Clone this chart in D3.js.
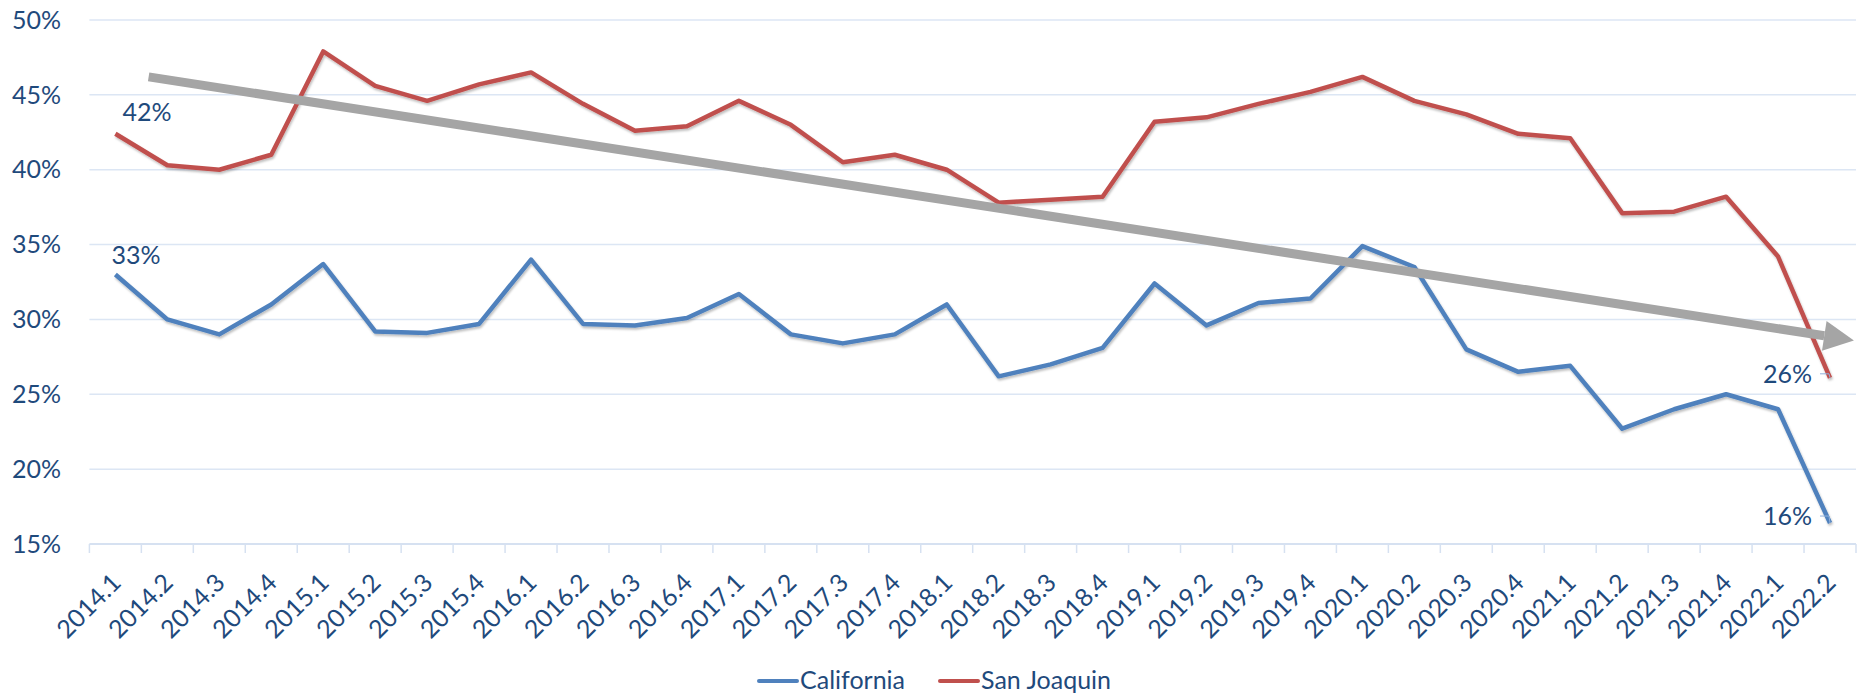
<!DOCTYPE html>
<html>
<head>
<meta charset="utf-8">
<script src="https://cdn.jsdelivr.net/npm/d3@7"></script>
<style>
  body { margin: 0; background: #fff; }
  text { font-family: Lato, "Open Sans", sans-serif; fill: #1f4a7c; }
</style>
</head>
<body>
<svg id="chart" width="1864" height="696"></svg>
<script>
// quarters on the x axis
const quarters = [
  '2014.1','2014.2','2014.3','2014.4','2015.1','2015.2','2015.3','2015.4',
  '2016.1','2016.2','2016.3','2016.4','2017.1','2017.2','2017.3','2017.4',
  '2018.1','2018.2','2018.3','2018.4','2019.1','2019.2','2019.3','2019.4',
  '2020.1','2020.2','2020.3','2020.4','2021.1','2021.2','2021.3','2021.4',
  '2022.1','2022.2'
];

// percent values
const california = [
  33.0, 30.0, 29.0, 31.0, 33.7, 29.2, 29.1, 29.7,
  34.0, 29.7, 29.6, 30.1, 31.7, 29.0, 28.4, 29.0,
  31.0, 26.2, 27.0, 28.1, 32.4, 29.6, 31.1, 31.4,
  34.9, 33.5, 28.0, 26.5, 26.9, 22.7, 24.0, 25.0,
  24.0, 16.4
];
const sanJoaquin = [
  42.4, 40.3, 40.0, 41.0, 47.9, 45.6, 44.6, 45.7,
  46.5, 44.4, 42.6, 42.9, 44.6, 43.0, 40.5, 41.0,
  40.0, 37.8, 38.0, 38.2, 43.2, 43.5, 44.4, 45.2,
  46.2, 44.6, 43.7, 42.4, 42.1, 37.1, 37.2, 38.2,
  34.2, 26.1
];

const yTicks = [15, 20, 25, 30, 35, 40, 45, 50];

// trend arrow: [category index, percent] at start and tip
const trendStart = [0.64, 46.2];
const trendEnd = [33.46, 28.6];

const series = [
  { name: 'California', values: california, color: '#4f81bd' },
  { name: 'San Joaquin', values: sanJoaquin, color: '#c0504d' }
];

const svg = d3.select('#chart');
const plotLeft = 89.4, plotRight = 1856, plotTop = 20, plotBottom = 544;
const fontSize = '25px';

const x = d3.scaleBand().domain(quarters).range([plotLeft, plotRight]).padding(0);
const y = d3.scaleLinear().domain([15, 50]).range([plotBottom, plotTop]);
const cx = i => x(quarters[0]) + x.step() * (i + 0.5);

const defs = svg.append('defs');
defs.append('filter').attr('id', 'shadow')
  .attr('x', '-5%').attr('y', '-5%').attr('width', '110%').attr('height', '120%')
  .append('feDropShadow')
  .attr('dx', 1).attr('dy', 2).attr('stdDeviation', 1.2)
  .attr('flood-color', '#000').attr('flood-opacity', 0.25);

// grid lines
svg.append('g')
  .selectAll('line')
  .data(yTicks.slice(1))
  .enter()
  .append('line')
  .attr('x1', plotLeft).attr('x2', plotRight)
  .attr('y1', d => y(d)).attr('y2', d => y(d))
  .attr('stroke', '#dce6f4').attr('stroke-width', 1.5);

// y labels
svg.append('g')
  .selectAll('text')
  .data(yTicks)
  .enter()
  .append('text')
  .attr('x', 61)
  .attr('y', d => y(d))
  .attr('dy', '0.35em')
  .attr('text-anchor', 'end')
  .style('font-size', fontSize)
  .text(d => d + '%');

// x axis line + tick marks at band edges
const xAxis = svg.append('g');
xAxis.append('line')
  .attr('x1', plotLeft).attr('x2', plotRight)
  .attr('y1', plotBottom).attr('y2', plotBottom)
  .attr('stroke', '#d6e1f1').attr('stroke-width', 2);
xAxis.selectAll('.tick')
  .data(d3.range(quarters.length + 1))
  .enter()
  .append('line')
  .attr('x1', i => plotLeft + i * x.step())
  .attr('x2', i => plotLeft + i * x.step())
  .attr('y1', plotBottom).attr('y2', plotBottom + 9)
  .attr('stroke', '#d6e1f1').attr('stroke-width', 1.5);

xAxis.selectAll('text')
  .data(quarters)
  .enter()
  .append('text')
  .attr('transform', (d, i) => `translate(${cx(i) + 1},${plotBottom + 34}) rotate(-45)`)
  .attr('text-anchor', 'end')
  .attr('dy', '0.35em')
  .style('font-size', fontSize)
  .text(d => d);

// series lines
const line = d3.line()
  .x((d, i) => cx(i))
  .y(d => y(d));

svg.append('g')
  .selectAll('path')
  .data(series)
  .enter()
  .append('path')
  .attr('d', d => line(d.values))
  .attr('fill', 'none')
  .attr('stroke', d => d.color)
  .attr('stroke-width', 4.5)
  .attr('stroke-linejoin', 'round')
  .attr('filter', 'url(#shadow)');

// trend arrow
const ax1 = cx(trendStart[0]), ay1 = y(trendStart[1]);
const ax2 = cx(trendEnd[0]), ay2 = y(trendEnd[1]);
const ang = Math.atan2(ay2 - ay1, ax2 - ax1);
const headLen = 30, headHalf = 15;
const bx = ax2 - headLen * Math.cos(ang), by = ay2 - headLen * Math.sin(ang);
const nx = -Math.sin(ang), ny = Math.cos(ang);
svg.append('line')
  .attr('x1', ax1).attr('y1', ay1)
  .attr('x2', bx).attr('y2', by)
  .attr('stroke', '#a5a5a5').attr('stroke-width', 9);
svg.append('path')
  .attr('d', `M${ax2},${ay2} L${bx + nx * headHalf},${by + ny * headHalf} L${bx - nx * headHalf},${by - ny * headHalf} Z`)
  .attr('fill', '#a5a5a5');

// data labels at first and last points
const fmt = v => Math.round(v) + '%';
const labels = [
  { v: sanJoaquin[0], i: 0, dx: 7, dy: -22, anchor: 'start' },
  { v: california[0], i: 0, dx: -4, dy: -19, anchor: 'start' },
  { v: sanJoaquin[quarters.length - 1], i: quarters.length - 1, dx: -18, dy: -4, anchor: 'end', leader: true },
  { v: california[quarters.length - 1], i: quarters.length - 1, dx: -18, dy: -7, anchor: 'end', leader: true }
];
const lg = svg.append('g');
labels.forEach(l => {
  const px = cx(l.i), py = y(l.v);
  lg.append('text')
    .attr('x', px + l.dx)
    .attr('y', py + l.dy)
    .attr('dy', '0.35em')
    .attr('text-anchor', l.anchor)
    .style('font-size', fontSize)
    .text(fmt(l.v));
  if (l.leader) {
    lg.append('path')
      .attr('d', `M${px - 10},${py + l.dy} L${px - 1},${py + l.dy} L${px},${py}`)
      .attr('fill', 'none')
      .attr('stroke', '#8fb0dc').attr('stroke-width', 1);
  }
});

// legend
const legend = svg.append('g');
const legendItems = [
  { s: series[0], x: 759 },
  { s: series[1], x: 940 }
];
legendItems.forEach(d => {
  legend.append('line')
    .attr('x1', d.x).attr('x2', d.x + 38)
    .attr('y1', 681).attr('y2', 681)
    .attr('stroke', d.s.color).attr('stroke-width', 4)
    .attr('stroke-linecap', 'round');
  legend.append('text')
    .attr('x', d.x + 41)
    .attr('y', 680)
    .attr('dy', '0.35em')
    .style('font-size', fontSize)
    .text(d.s.name);
});
</script>
</body>
</html>
